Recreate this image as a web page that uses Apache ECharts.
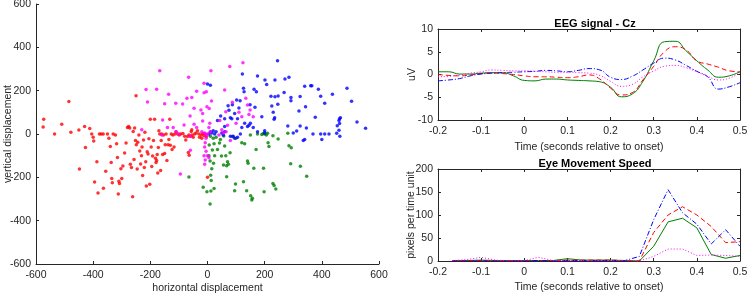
<!DOCTYPE html>
<html>
<head>
<meta charset="utf-8">
<script src="https://cdn.jsdelivr.net/npm/echarts@6/dist/echarts.min.js"></script>
<style>
  html, body { margin: 0; padding: 0; background: #fff; }
  #chart { width: 747px; height: 294px; }
</style>
</head>
<body>
<div id="chart"></div>
<script>
// scatter: displacement of each eye movement, per class
var redPts = [[-573,68],[-575,32],[-535,0],[-510,45],[-485,150],[-478,8],[-450,18],[-448,-162],[-430,35],[-427,-62],
  [-412,25],[-405,0],[-400,-15],[-398,-32],[-395,-222],[-387,-128],[-383,-272],[-378,0],[-372,0],[-365,0],[-364,-250],
  [-356,-172],[-350,0],[-345,-20],[-340,-58],[-337,-132],[-335,-205],[-333,-225],[-330,0],[-322,-5],[-318,-45],[-315,-108],
  [-312,-277],[-310,-218],[-308,-228],[-303,-160],[-300,-205],[-296,-148],[-290,-88],[-285,-42],[-280,30],[-276,35],[-272,28],
  [-270,-140],[-266,-155],[-262,-290],[-260,12],[-257,-118],[-255,28],[-250,177],[-252,-30],[-249,-50],[-246,-162],[-244,-38],
  [-240,-5],[-237,-78],[-234,-138],[-231,-100],[-229,-60],[-227,-192],[-224,-28],[-221,-155],[-219,8],[-216,-128],[-214,-240],
  [-211,-82],[-208,-92],[-205,-22],[-202,-232],[-200,68],[-197,-60],[-195,-150],[-192,-102],[-189,-30],[-185,68],[-182,-112],
  [-180,-132],[-178,-122],[-176,-95],[-174,-180],[-172,-62],[-170,15],[-167,0],[-164,-168],[-162,-30],[-160,0],[-157,-95],
  [-154,-5],[-150,-90],[-148,-50],[-145,0],[-142,-122],[-138,-50],[-135,-25],[-132,68],[-130,-52],[-127,0],[-124,-72],
  [-121,-5],[-117,-60],[-114,0],[-110,10],[-104,0],[-99,-5],[-94,0],[-86,2],[-80,-10],[-76,-28],[-70,-12],[-67,-85],
  [-64,-98],[-60,-10],[-57,12],[-54,-5],[-50,-15],[-45,0],[-40,5],[-35,15],[-28,-15],[-22,-5],[-16,2],[-12,-8],[-8,0],
  [-4,-12],[0,-200],[-65,-5],[-55,20],[-30,0],[-20,-20]];
var greenPts = [[-65,-198],[-15,-246],[-2,-266],[12,-263],[23,-251],[9,-323],[11,-190],[13,-215],[6,-51],[23,-45],[42,-42],
  [60,-55],[17,-74],[35,-71],[49,-101],[64,-100],[79,-86],[70,-128],[56,-143],[67,-146],[73,-140],[9,-125],[21,-135],
  [140,-125],[142,-135],[170,-71],[162,-158],[196,-158],[67,-197],[98,-231],[95,-262],[126,-220],[137,-262],[151,-285],
  [157,-297],[155,-305],[198,-266],[57,-9],[87,-12],[100,-20],[120,-40],[130,-45],[150,-5],[175,0],[190,-2],[195,2],
  [200,0],[206,-5],[210,3],[229,-8],[247,-23],[281,3],[212,-40],[215,-58],[285,-54],[293,-63],[291,-137],[325,-149],
  [347,-195],[229,-228],[233,-238],[239,-254],[10,-10],[20,-20],[30,-15],[45,-25],[5,-100],[15,-160],[25,-100]];
var bluePts = [[245,338],[236,249],[271,254],[285,262],[207,229],[222,174],[236,172],[247,175],[268,192],[292,169],
  [292,154],[324,173],[340,220],[361,223],[365,223],[388,206],[396,174],[437,183],[488,211],[410,142],[504,151],[246,137],
  [225,129],[320,106],[343,126],[377,77],[233,68],[462,70],[465,75],[460,62],[523,55],[553,26],[281,37],[312,14],[324,37],
  [346,28],[454,38],[462,49],[369,0],[396,0],[410,0],[425,0],[452,3],[460,17],[463,-10],[400,-25],[335,-30],[340,-25],
  [300,5],[122,277],[175,268],[201,249],[0,231],[10,225],[126,211],[128,195],[163,206],[171,195],[102,157],[114,154],
  [87,135],[72,130],[149,135],[166,123],[46,83],[35,62],[60,70],[80,75],[75,110],[85,70],[95,95],[105,70],[110,120],
  [145,40],[150,50],[160,30],[175,10],[200,5],[200,15],[190,80],[230,100],[235,75],[130,50],[140,35],[10,10],[15,5],
  [20,15],[5,0],[25,0],[30,10],[50,5],[55,-5],[60,10],[90,-10],[95,-20],[105,-15],[115,0],[120,30],[60,35],[80,-10]];
var magentaPts = [[-167,292],[-178,206],[-215,205],[-210,148],[12,292],[78,312],[124,329],[-66,262],[-136,183],[-12,234],
  [-4,195],[-38,197],[-12,190],[14,152],[60,203],[-111,142],[-72,165],[-55,169],[-87,138],[-47,119],[-23,111],[-2,126],
  [6,118],[-17,95],[-61,83],[-157,65],[-82,42],[-47,45],[-38,30],[-17,60],[8,50],[5,30],[134,165],[140,134],[149,111],
  [160,80],[145,90],[87,146],[110,100],[120,80],[64,103],[43,62],[70,40],[100,50],[-150,140],[-140,30],[-160,-5],[-230,20],
  [-95,-185],[-60,-75],[-60,-10],[-5,-20],[-8,-40],[-10,-60],[-5,-80],[-12,-100],[-8,-120],[-10,-140],[0,-100],[5,-110],
  [0,0],[-10,5],[10,10],[-20,10],[50,20],[55,5],[65,10],[40,-5],[80,-30],[-5,-5],[-100,0],[-110,10],[-120,30]];

// EEG signal - Cz, sampled every 25 ms
var eegTime = [-0.2,-0.175,-0.15,-0.125,-0.1,-0.075,-0.05,-0.025,0,0.025,0.05,0.075,0.1,0.125,0.15,0.175,0.2,
  0.225,0.25,0.275,0.3,0.325,0.35,0.375,0.4,0.425,0.45,0.475,0.5];
var eegGreen = [0.6,0.6,0.1,0.1,0.3,0.4,0.4,-0.3,-1.3,-1.4,-1.0,-1.0,-1.2,-1.3,-1.4,-1.6,-2.8,-4.9,-4.3,-1.5,3.0,7.2,7.3,5.2,3.0,1.0,-0.6,-0.3,0.6];
var eegRed = [0,-0.2,-0.3,-0.1,0.2,0.3,0.2,0,-0.3,-0.5,-0.5,-0.6,-0.7,-0.5,-0.1,-1.0,-3.0,-4.5,-4.0,-1.2,1.8,5.0,6.1,5.4,3.0,2.3,1.6,0.8,0.6];
var eegBlue = [-1.4,-1.2,-0.9,-0.3,0.1,0.3,0.4,0.5,0.6,0.7,0.9,0.8,0.6,0.9,1.3,1.0,-0.6,-1.1,-0.4,1.0,2.5,3.6,3.2,2.0,0.7,-0.5,-3.2,-2.7,-1.8];
var eegMagenta = [-0.5,-0.4,-0.1,0.3,0.6,1.0,0.9,0.8,0.8,0.7,0.6,0.5,0.5,0.4,0.3,-0.2,-1.5,-2.6,-2.2,-0.5,0.8,1.8,2.0,1.5,0.6,-0.4,-1.2,-0.8,0.4];

// Eye movement speed, one sample per video frame
var spdTime = [-0.1667,-0.1333,-0.1,-0.0667,-0.0333,0,0.0333,0.0667,0.1,0.1333,0.1667,0.2,0.2333,0.2667,0.3,0.3333,0.3667,0.4,0.4333,0.4667,0.5];
var spdGreen = [1,1,2,1,1,1,1,1,5,2,2,2,1,0,32,85,93,72,14,6,12];
var spdRed = [1,1,1,1,1,1,1,1,2,2,2,2,1,0,62,100,118,100,75,40,42];
var spdBlue = [0,0,0,0,0,0,1,0,1,1,1,1,1,10,90,155,105,80,37,68,32];
var spdMagenta = [1,3,8,2,0,1,8,1,1,1,1,1,1,0,10,26,26,12,13,12,10];

var FONT = 'Liberation Sans';
var INK = '#262626';
var RED = '#ff0000', GREEN = '#008000', BLUE = '#0000ff', MAGENTA = '#ff00ff';

function pairs(xs, ys) {
  return xs.map(function (x, i) { return [x, ys[i]]; });
}

function valAxis(grid, pos, min, max, step, labels, name, gap, margin) {
  return {
    type: 'value', gridIndex: grid, position: pos, min: min, max: max, interval: step,
    splitLine: { show: false },
    axisLine: { show: true, onZero: false, lineStyle: { color: INK, width: 1 } },
    axisTick: { show: true, inside: true, length: 3, lineStyle: { color: INK } },
    axisLabel: { show: labels, color: INK, fontFamily: FONT, fontSize: 10.5, margin: margin || 5 },
    name: name || '', nameLocation: 'middle', nameGap: gap || 0, nameMoveOverlap: false,
    nameTextStyle: { color: INK, fontFamily: FONT, fontSize: 10.5 }
  };
}

function dots(name, pts, color) {
  return { name: name, type: 'scatter', xAxisIndex: 0, yAxisIndex: 0, data: pts,
    symbolSize: 3.5, itemStyle: { color: color }, silent: true };
}

function curve(ax, ys, xs, color, dash, smooth) {
  return { type: 'line', xAxisIndex: ax, yAxisIndex: ax, data: pairs(xs, ys),
    smooth: smooth, showSymbol: false, silent: true,
    lineStyle: { color: color, width: 1, type: dash } };
}

var chart = echarts.init(document.getElementById('chart'), null, { renderer: 'canvas' });
chart.setOption({
  backgroundColor: '#fff',
  animation: false,
  title: [
    { text: 'EEG signal - Cz', left: 590, top: 13, textAlign: 'center',
      textStyle: { color: '#000', fontFamily: FONT, fontSize: 11, fontWeight: 'bold' } },
    { text: 'Eye Movement Speed', left: 590, top: 153, textAlign: 'center',
      textStyle: { color: '#000', fontFamily: FONT, fontSize: 11, fontWeight: 'bold' } }
  ],
  grid: [
    { left: 36, top: 4, width: 343, height: 260, outerBoundsMode: 'none', containLabel: false },
    { left: 438, top: 29, width: 302, height: 91, outerBoundsMode: 'none', containLabel: false },
    { left: 438, top: 169, width: 302, height: 92, outerBoundsMode: 'none', containLabel: false }
  ],
  xAxis: [
    valAxis(0, 'bottom', -600, 600, 200, true, 'horizontal displacement', 19, 6),
    valAxis(1, 'bottom', -0.2, 0.5, 0.1, true, 'Time (seconds relative to onset)', 22, 6),
    valAxis(2, 'bottom', -0.2, 0.5, 0.1, true, 'Time (seconds relative to onset)', 21, 6),
    valAxis(1, 'top', -0.2, 0.5, 0.1, false),
    valAxis(2, 'top', -0.2, 0.5, 0.1, false)
  ],
  yAxis: [
    valAxis(0, 'left', -600, 600, 200, true, 'vertical displacement', 22),
    valAxis(1, 'left', -10, 10, 5, true, 'uV', 20),
    valAxis(2, 'left', 0, 200, 50, true, 'pixels per time unit', 21),
    valAxis(1, 'right', -10, 10, 5, false),
    valAxis(2, 'right', 0, 200, 50, false)
  ],
  series: [
    dots('red', redPts, RED),
    dots('green', greenPts, GREEN),
    dots('blue', bluePts, BLUE),
    dots('magenta', magentaPts, MAGENTA),
    curve(1, eegGreen, eegTime, GREEN, 'solid', true),
    curve(1, eegRed, eegTime, RED, [5, 3], true),
    curve(1, eegBlue, eegTime, BLUE, [5, 2, 1, 2], true),
    curve(1, eegMagenta, eegTime, MAGENTA, [1, 2], true),
    curve(2, spdGreen, spdTime, GREEN, 'solid', false),
    curve(2, spdRed, spdTime, RED, [5, 3], false),
    curve(2, spdBlue, spdTime, BLUE, [5, 2, 1, 2], false),
    curve(2, spdMagenta, spdTime, MAGENTA, [1, 2], false)
  ]
});
</script>
</body>
</html>
